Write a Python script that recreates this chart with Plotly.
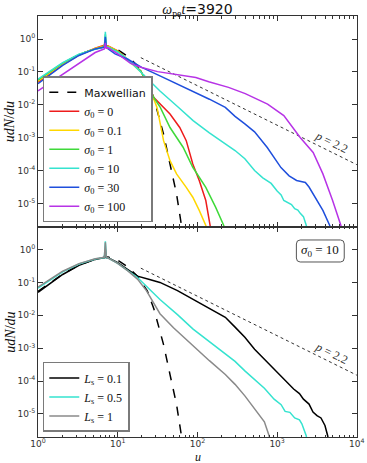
import plotly.graph_objects as go

# ---------------- data ----------------
# Maxwellian (shown in both panels)
U_MAXW = [1, 2.04, 3.27, 5.22, 6.61, 7.59, 10.1, 13.4, 17.7, 23.5, 28.4, 31.1, 37.6, 45.3, 54.7, 63.1, 67.6]
Y_MAXW = [0.0537, 0.178, 0.339, 0.513, 0.575, 0.589, 0.468, 0.295, 0.155, 0.0550, 0.0158, 7.08e-3,
          1.29e-3, 1.58e-4, 1.95e-5, 2.14e-6, 7.9e-7]

# Top panel: sigma_0 series
U_S0 = [1, 2.04, 3.27, 5.22, 6.61, 6.8, 7.0, 7.2, 7.59, 10, 14.5, 19.5, 28.4, 34.2, 45.3, 60.0, 72.4,
        87.5, 105.4, 127.4, 146.6, 154.9]
Y_S0 = [0.0490, 0.166, 0.324, 0.525, 0.631, 0.631, 0.832, 0.631, 0.617, 0.437, 0.200, 0.107, 0.0166,
        0.0105, 5.25e-3, 2.04e-3, 8.13e-4, 1.58e-4, 5.01e-5, 1.23e-5, 2.14e-6, 7.9e-7]

U_S01 = [1, 2.04, 3.27, 5.22, 6.61, 6.8, 7.0, 7.2, 7.59, 10, 14.5, 19.5, 23.5, 31.1, 34.2, 37.6, 45.3,
         54.7, 72.4, 87.5, 105.4, 127.4, 134.9]
Y_S01 = [0.0525, 0.174, 0.331, 0.513, 0.603, 0.603, 0.871, 0.603, 0.603, 0.427, 0.195, 0.100, 0.0501,
         8.32e-3, 2.63e-3, 8.13e-4, 2.0e-4, 7.94e-5, 3.09e-5, 1.55e-5, 6.17e-6, 2.14e-6, 7.9e-7]

U_S1 = [1, 2.04, 3.27, 5.22, 6.61, 6.8, 7.0, 7.2, 7.59, 10, 14.5, 19.5, 28.4, 34.2, 45.3, 66.1, 87.5,
        127.4, 169.0, 213.8, 229.1]
Y_S1 = [0.0575, 0.186, 0.339, 0.501, 0.575, 0.575, 1.38, 0.575, 0.575, 0.417, 0.195, 0.107, 0.0166,
        8.32e-3, 2.04e-3, 5.13e-4, 1.26e-4, 3.09e-5, 7.76e-6, 2.14e-6, 7.9e-7]

U_S10 = [1, 2.04, 3.27, 5.22, 6.61, 6.8, 7.0, 7.2, 7.59, 10, 13.4, 20.0, 33.9, 56.2, 88.3, 141.3, 223.9,
         296.5, 393.6, 521.2, 660.7, 741.3, 841.4, 1000, 1122, 1213, 1349, 1514, 1660, 1820, 1950,
         2138, 2323, 2455]
Y_S10 = [0.0603, 0.191, 0.347, 0.490, 0.550, 0.550, 1.66, 0.550, 0.562, 0.398, 0.243, 0.0933, 0.0263,
         8.91e-3, 3.31e-3, 1.41e-3, 6.61e-4, 4.07e-4, 2.29e-4, 1.0e-4, 6.03e-5, 5.01e-5, 4.07e-5,
         2.40e-5, 1.82e-5, 1.23e-5, 1.05e-5, 9.33e-6, 6.92e-6, 6.31e-6, 5.01e-6, 3.98e-6, 2.14e-6, 7.9e-7]

U_S30 = [1, 2.04, 3.27, 5.22, 6.61, 6.8, 7.0, 7.2, 7.59, 9.27, 13.4, 20.0, 33.9, 56.2, 88.3, 141.3, 223.9,
         296.5, 393.6, 521.2, 751.6, 1117, 1413, 1754, 1995, 2259, 2512, 2831, 3750, 4571, 5012]
Y_S30 = [0.0437, 0.158, 0.316, 0.501, 0.562, 0.562, 1.17, 0.537, 0.501, 0.355, 0.243, 0.138, 0.0759,
         0.0427, 0.0263, 0.0148, 8.32e-3, 4.47e-3, 2.63e-3, 1.51e-3, 5.01e-4, 1.23e-4, 6.92e-5, 5.01e-5,
         4.68e-5, 4.37e-5, 3.16e-5, 2.0e-5, 6.17e-6, 2.14e-6, 7.9e-7]

U_S100 = [1, 2.04, 3.27, 5.22, 6.61, 6.8, 7.0, 7.2, 7.59, 10, 14.5, 19.5, 31.6, 54.7, 95.5, 138.7, 245.5,
          398.1, 758.6, 1213, 1945, 2831, 3750, 4966, 6310, 6761]
Y_S100 = [0.0263, 0.0851, 0.191, 0.389, 0.490, 0.501, 0.759, 0.525, 0.537, 0.355, 0.182, 0.138, 0.102,
          0.0851, 0.0676, 0.0501, 0.0339, 0.0219, 0.0105, 4.68e-3, 1.02e-3, 3.55e-4, 7.94e-5, 1.23e-5,
          2.14e-6, 7.9e-7]

# Bottom panel: L_s series (sigma_0 = 10)
U_L01 = [1, 2.04, 3.27, 5.22, 6.61, 6.8, 7.0, 7.2, 7.59, 10, 13.4, 17.7, 25.1, 33.9, 56.2, 88.3, 141.3,
         223.9, 296.5, 393.6, 521.2, 916.2, 1611, 1905, 2138, 2512, 2818, 3162, 3548, 3981, 4315, 4571]
Y_L01 = [0.0501, 0.174, 0.331, 0.501, 0.562, 0.562, 1.0, 0.562, 0.562, 0.398, 0.245, 0.155, 0.123, 0.100,
         0.0562, 0.0302, 0.0166, 8.71e-3, 4.37e-3, 2.14e-3, 9.33e-4, 2.29e-4, 5.75e-5, 4.17e-5, 2.82e-5,
         2.0e-5, 1.15e-5, 8.91e-6, 7.59e-6, 4.47e-6, 2.14e-6, 7.9e-7]

U_L05 = [1, 2.04, 3.27, 5.22, 6.61, 6.8, 7.0, 7.2, 7.59, 10, 13.4, 17.7, 33.9, 56.2, 88.3, 141.3, 223.9,
         296.5, 393.6, 521.2, 691.8, 916.2, 1000, 1122, 1259, 1445, 1660, 1905, 2042, 2323, 2399]
Y_L05 = [0.0676, 0.209, 0.363, 0.513, 0.562, 0.562, 1.78, 0.562, 0.550, 0.380, 0.229, 0.141, 0.0302,
         0.0105, 3.80e-3, 1.58e-3, 7.08e-4, 3.98e-4, 2.04e-4, 1.15e-4, 6.03e-5, 2.82e-5, 2.40e-5,
         1.91e-5, 1.20e-5, 1.12e-5, 7.59e-6, 6.61e-6, 5.01e-6, 2.14e-6, 7.9e-7]

U_L1 = [1, 2.04, 3.27, 5.22, 6.61, 6.8, 7.0, 7.2, 7.59, 10, 13.4, 17.7, 22.9, 28.2, 33.9, 50.1, 88.3,
        141.3, 223.9, 296.5, 393.6, 521.2, 691.8, 794.3, 831.8]
Y_L1 = [0.0724, 0.219, 0.372, 0.525, 0.575, 0.575, 1.66, 0.575, 0.550, 0.380, 0.224, 0.126, 0.0562,
        0.0240, 0.0112, 4.17e-3, 1.17e-3, 4.17e-4, 1.58e-4, 7.94e-5, 3.55e-5, 1.41e-5, 5.75e-6,
        2.14e-6, 7.9e-7]

# Power-law reference p = 2.2
U_PL = [19.5, 10000]
Y_PL = [0.271, 1.51e-4]

X_TICKS = [1, 10, 100, 1000, 10000]
X_TICKTEXT = ["10<sup>0</sup>", "10<sup>1</sup>", "10<sup>2</sup>", "10<sup>3</sup>", "10<sup>4</sup>"]
Y_TICKS = [1, 0.1, 0.01, 1e-3, 1e-4, 1e-5]
Y_TICKTEXT = ["10<sup>0</sup>", "10<sup>-1</sup>", "10<sup>-2</sup>", "10<sup>-3</sup>",
              "10<sup>-4</sup>", "10<sup>-5</sup>"]

# ---------------- figure ----------------
SERIF = "Liberation Serif"
SANS = "DejaVu Sans"
LW = 1.5

top_series = [
    ("<i>σ</i><sub>0</sub> = 0", U_S0, Y_S0, "#ee1c1c"),
    ("<i>σ</i><sub>0</sub> = 0.1", U_S01, Y_S01, "#ffd700"),
    ("<i>σ</i><sub>0</sub> = 1", U_S1, Y_S1, "#3fd93a"),
    ("<i>σ</i><sub>0</sub> = 10", U_S10, Y_S10, "#35e3cf"),
    ("<i>σ</i><sub>0</sub> = 30", U_S30, Y_S30, "#1f4fdc"),
    ("<i>σ</i><sub>0</sub> = 100", U_S100, Y_S100, "#b733e6"),
]
bottom_series = [
    ("<i>L</i><sub>s</sub> = 0.1", U_L01, Y_L01, "#000000"),
    ("<i>L</i><sub>s</sub> = 0.5", U_L05, Y_L05, "#35e3cf"),
    ("<i>L</i><sub>s</sub> = 1", U_L1, Y_L1, "#8a8a8a"),
]

fig = go.Figure()

# power-law guides
fig.add_trace(go.Scatter(x=U_PL, y=Y_PL, mode="lines", line=dict(color="#333", width=1, dash="dot"),
                         showlegend=False, xaxis="x", yaxis="y", hoverinfo="skip"))
fig.add_trace(go.Scatter(x=U_PL, y=Y_PL, mode="lines", line=dict(color="#333", width=1, dash="dot"),
                         showlegend=False, xaxis="x2", yaxis="y2", hoverinfo="skip"))

# top panel
fig.add_trace(go.Scatter(x=U_MAXW, y=Y_MAXW, mode="lines",
                         name='<span style="font-family:DejaVu Sans;font-size:11px">Maxwellian</span>',
                         line=dict(color="black", width=LW, dash="dash"), xaxis="x", yaxis="y",
                         legend="legend"))
for name, u, y, c in top_series:
    fig.add_trace(go.Scatter(x=u, y=y, mode="lines", name=name, line=dict(color=c, width=LW),
                             xaxis="x", yaxis="y", legend="legend"))

# bottom panel
fig.add_trace(go.Scatter(x=U_MAXW, y=Y_MAXW, mode="lines", showlegend=False,
                         line=dict(color="black", width=LW, dash="dash"), xaxis="x2", yaxis="y2"))
for name, u, y, c in bottom_series:
    fig.add_trace(go.Scatter(x=u, y=y, mode="lines", name=name, line=dict(color=c, width=LW),
                             xaxis="x2", yaxis="y2", legend="legend2"))

minor_x = [m * 10 ** k for k in range(0, 4) for m in range(2, 10)]

axis_common = dict(showline=True, linecolor="#333", linewidth=1, mirror="ticks", showgrid=False,
                   ticks="inside", ticklen=5, tickcolor="#333", zeroline=False,
                   tickfont=dict(family=SANS, size=9, color="#333"))

fig.update_layout(
    width=367, height=463,
    margin=dict(l=38, r=2, t=16, b=26),
    paper_bgcolor="white", plot_bgcolor="white",
    xaxis=dict(type="log", range=[0, 4.002], domain=[0, 1], anchor="y", tickvals=X_TICKS,
               showticklabels=False,
               minor=dict(tickvals=minor_x, ticks="inside", ticklen=2.5, tickcolor="#333"),
               **axis_common),
    yaxis=dict(type="log", range=[-5.7, 0.7], domain=[0.5, 1], anchor="x", tickvals=Y_TICKS,
               ticktext=Y_TICKTEXT, **axis_common),
    xaxis2=dict(type="log", range=[0, 4.002], domain=[0, 1], anchor="y2", tickvals=X_TICKS,
                ticktext=X_TICKTEXT, ticklabeloverflow="allow", ticklabelstandoff=-2,
                minor=dict(tickvals=minor_x, ticks="inside", ticklen=2.5, tickcolor="#333"),
                **axis_common),
    yaxis2=dict(type="log", range=[-5.7, 0.7], domain=[0, 0.5], anchor="x2", tickvals=Y_TICKS,
                ticktext=Y_TICKTEXT, **axis_common),
    title=dict(text='<i>ω</i><sub>pe</sub><i>t</i><span style="font-family:DejaVu Sans">=3920</span>',
               x=0.5, xref="paper", y=1 - 9 / 463, yref="container", yanchor="middle", xanchor="center",
               font=dict(family=SERIF, size=14, color="#111")),
    legend=dict(x=0.015, y=0.51, xanchor="left", yanchor="bottom", bgcolor="white",
                bordercolor="#7a7a7a", borderwidth=1.5, font=dict(family=SERIF, size=12, color="#111"),
                tracegroupgap=0, itemwidth=30),
    legend2=dict(x=0.015, y=0.012, xanchor="left", yanchor="bottom", bgcolor="white",
                 bordercolor="#7a7a7a", borderwidth=1.5, font=dict(family=SERIF, size=12, color="#111"),
                 tracegroupgap=0, itemwidth=30),
)

# rounded box for sigma_0 = 10 label
x0, x1, y0, y1 = 0.810, 0.960, 0.4157, 0.468
rx, ry = 0.012, 0.0095
path = (f"M {x0+rx},{y1} L {x1-rx},{y1} Q {x1},{y1} {x1},{y1-ry} L {x1},{y0+ry} Q {x1},{y0} {x1-rx},{y0} "
        f"L {x0+rx},{y0} Q {x0},{y0} {x0},{y0+ry} L {x0},{y1-ry} Q {x0},{y1} {x0+rx},{y1} Z")
fig.add_shape(type="path", path=path, xref="paper", yref="paper", line=dict(color="#555", width=1),
              fillcolor="white", layer="above")

annots = [
    dict(text="<i>σ</i><sub>0</sub> = 10", x=0.885, y=0.443, xref="paper", yref="paper",
         xanchor="center", yanchor="middle",
         showarrow=False, font=dict(family=SERIF, size=13, color="#111")),
    dict(text="<i>p</i> = 2.2", x=3.68, y=-3.14, xref="x", yref="y", showarrow=False, textangle=26,
         xanchor="center", yanchor="middle", font=dict(family=SERIF, size=12, color="#333")),
    dict(text="<i>p</i> = 2.2", x=3.68, y=-3.16, xref="x2", yref="y2", showarrow=False, textangle=26,
         xanchor="center", yanchor="middle", font=dict(family=SERIF, size=12, color="#333")),
    dict(text="<i>udN</i>/<i>du</i>", x=-0.0887, y=0.7494, xref="paper", yref="paper", showarrow=False,
         xanchor="center", yanchor="middle",
         textangle=-90, font=dict(family=SERIF, size=14, color="#111")),
    dict(text="<i>udN</i>/<i>du</i>", x=-0.0887, y=0.2494, xref="paper", yref="paper", showarrow=False,
         xanchor="center", yanchor="middle",
         textangle=-90, font=dict(family=SERIF, size=14, color="#111")),
    dict(text="<i>u</i>", x=0.5, y=-0.0485, xref="paper", yref="paper", showarrow=False, borderpad=0,
         xanchor="center", yanchor="middle", font=dict(family=SERIF, size=12, color="#111")),
]
fig.update_layout(annotations=annots)

fig.write_html("out.html")
